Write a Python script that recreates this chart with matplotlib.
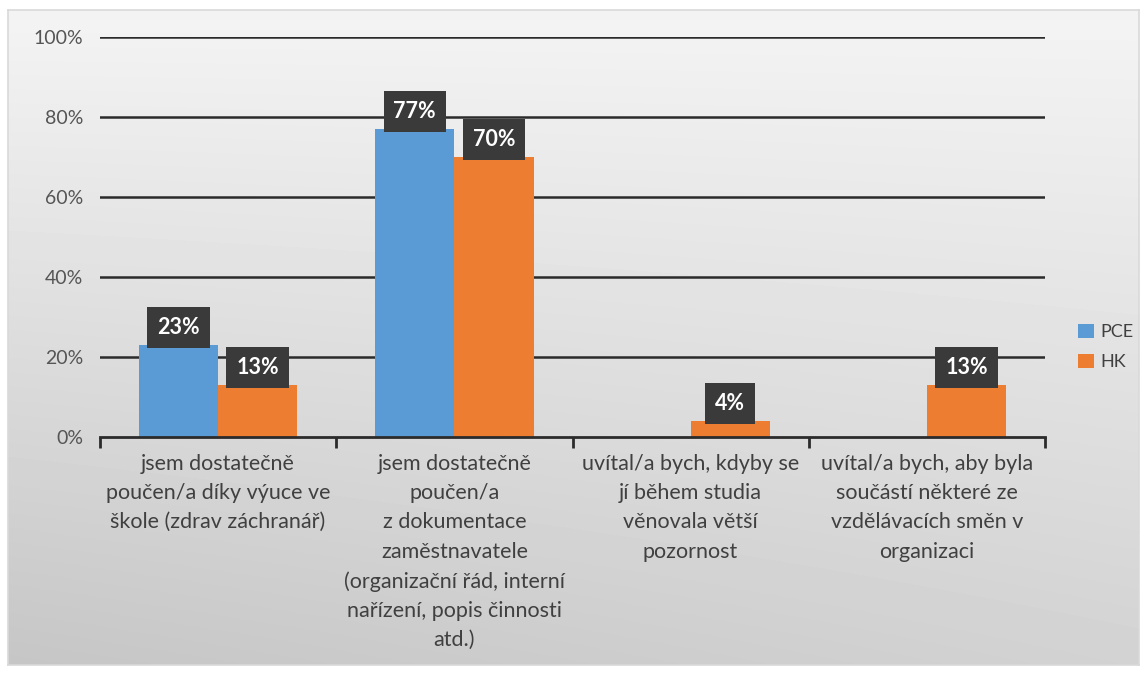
import matplotlib.pyplot as plt
import numpy as np

kategorie = [
    "jsem dostatečně\npoučen/a díky výuce ve\nškole (zdrav záchranář)",
    "jsem dostatečně\npoučen/a\nz dokumentace\nzaměstnavatele\n(organizační řád, interní\nnařízení, popis činnosti\natd.)",
    "uvítal/a bych, kdyby se\njí během studia\nvěnovala větší\npozornost",
    "uvítal/a bych, aby byla\nsoučástí některé ze\nvzdělávacích směn v\norganizaci",
]
pce = [23, 77, 0, 0]
hk = [13, 70, 4, 13]
y_ticks = [0, 20, 40, 60, 80, 100]

plt.rcParams['font.family'] = ['Lato', 'DejaVu Sans']

W, H = 1147, 675
fig = plt.figure(figsize=(W / 100, H / 100), dpi=100)
fig.patch.set_facecolor('white')

# pozadi grafu - sedy prechod
bg = fig.add_axes([8 / W, 10 / H, (W - 16) / W, (H - 20) / H])
yy, xx = np.mgrid[0:1:200j, 0:1:300j]
shade = 0.955 - 0.13 * yy - 0.05 * (1 - xx) * yy
bg.imshow(shade, cmap='gray', vmin=0, vmax=1, aspect='auto',
          extent=[0, 1, 0, 1], origin='upper', interpolation='bilinear')
bg.set_xlim(0, 1)
bg.set_ylim(0, 1)
bg.set_xticks([])
bg.set_yticks([])
for s in bg.spines.values():
    s.set_color('#d9d9d9')
    s.set_linewidth(1.2)

ax = fig.add_axes([100 / W, (H - 437) / H, 945 / W, 400 / H])
ax.set_facecolor('none')

x = np.arange(len(kategorie))
w = 0.335
b1 = ax.bar(x - w / 2, pce, w, color='#5b9bd5', label='PCE', zorder=3)
b2 = ax.bar(x + w / 2, hk, w, color='#ed7d31', label='HK', zorder=3)

# popisky hodnot v tmavych ramecich
for bars, vals in ((b1, pce), (b2, hk)):
    for r, v in zip(bars, vals):
        if v == 0:
            continue
        ax.annotate(f'{v}%', (r.get_x() + r.get_width() / 2, v),
                    xytext=(0, 12.5), textcoords='offset points',
                    ha='center', va='center', color='white',
                    fontsize=15.5, fontweight='bold', zorder=5,
                    bbox=dict(boxstyle='square,pad=0.46', fc='#3a3a3a', ec='none'))

ax.set_ylim(0, 100)
ax.set_xlim(-0.5, 3.5)
ax.set_yticks(y_ticks)
ax.set_yticklabels([f'{t}%' for t in y_ticks])
for t in y_ticks[1:]:
    ax.axhline(t, color='#2b2b2b', lw=1.8, zorder=1)

ax.set_xticks(x)
ax.set_xticklabels(kategorie, fontsize=15.5, color='#404040', linespacing=1.58)
ax.set_xticks(np.arange(-0.5, 4, 1), minor=True)
ax.tick_params(axis='x', which='major', length=0, pad=12)
ax.tick_params(axis='x', which='minor', length=8, width=2, color='#2b2b2b', direction='out')
ax.tick_params(axis='y', length=0, pad=12, labelsize=14, labelcolor='#555555')

for k in ('top', 'right', 'left'):
    ax.spines[k].set_visible(False)
ax.spines['bottom'].set_color('#2b2b2b')
ax.spines['bottom'].set_linewidth(2)
ax.spines['bottom'].set_zorder(4)

fig.legend(handles=[b1, b2], labels=['PCE', 'HK'], loc='center left',
           bbox_to_anchor=(1062 / W, 1 - 347 / H), frameon=False,
           fontsize=13, handlelength=0.85, handleheight=0.85,
           handletextpad=0.4, labelspacing=0.75, labelcolor='#404040')

fig.savefig('out.png', dpi=100)
